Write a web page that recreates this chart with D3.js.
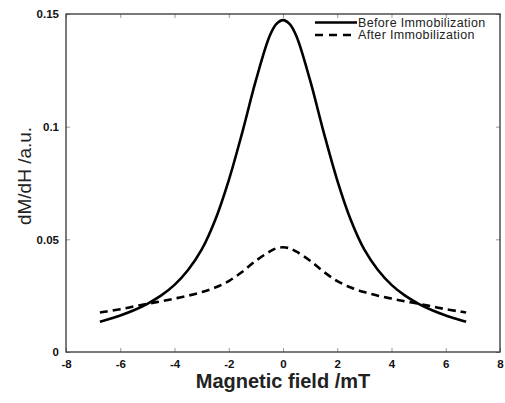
<!DOCTYPE html>
<html>
<head>
<meta charset="utf-8">
<script src="https://cdn.jsdelivr.net/npm/d3@7"></script>
<style>
  body { margin: 0; background: #fff; }
  svg { display: block; }
</style>
</head>
<body>
<div id="chartContainer"></div>
<script>
const fieldValues = [-6.75, -6.5, -6, -5.5, -5, -4.5, -4, -3.5, -3, -2.5, -2, -1.5, -1, -0.5, -0.25, 0,
                     0.25, 0.5, 1, 1.5, 2, 2.5, 3, 3.5, 4, 4.5, 5, 5.5, 6, 6.5, 6.75];

// dM/dH before immobilization
const beforeValues = [0.0134, 0.0143, 0.0162, 0.0185, 0.0214, 0.0250, 0.0298, 0.0364, 0.0454, 0.0586, 0.0762, 0.0975, 0.1205, 0.1400, 0.1455, 0.1473,
                      0.1455, 0.1400, 0.1205, 0.0975, 0.0762, 0.0586, 0.0454, 0.0364, 0.0298, 0.0250, 0.0214, 0.0185, 0.0162, 0.0143, 0.0134];

// dM/dH after immobilization
const afterValues = [0.0175, 0.0180, 0.0190, 0.0202, 0.0214, 0.0225, 0.0237, 0.0250, 0.0266, 0.0286, 0.0315, 0.0356, 0.0405, 0.0445, 0.0460, 0.0465,
                     0.0460, 0.0445, 0.0405, 0.0356, 0.0315, 0.0286, 0.0266, 0.0250, 0.0237, 0.0225, 0.0214, 0.0202, 0.0190, 0.0180, 0.0175];

const xTicks = [-8, -6, -4, -2, 0, 2, 4, 6, 8];
const yTicks = [0, 0.05, 0.1, 0.15];
const legendLabels = ["Before Immobilization", "After Immobilization"];

const svgWidth = 505;
const svgHeight = 403;
const margin = { top: 14, right: 5, bottom: 51, left: 66 };
const chartWidth = svgWidth - margin.left - margin.right;
const chartHeight = svgHeight - margin.top - margin.bottom;

const svg = d3.select("#chartContainer")
    .append("svg")
    .attr("width", svgWidth)
    .attr("height", svgHeight);

const chart = svg.append("g")
    .attr("transform", `translate(${margin.left}, ${margin.top})`);

const xScale = d3.scaleLinear().domain([-8, 8]).range([0, chartWidth]);
const yScale = d3.scaleLinear().domain([0, 0.15]).range([chartHeight, 0]);

// inward ticks on all four sides
function styleAxis(g) {
    g.select(".domain").remove();
    g.selectAll(".tick line").attr("stroke", "#999").attr("stroke-width", 1);
    g.selectAll(".tick text")
        .attr("font-family", "Liberation Sans, Arial, sans-serif")
        .attr("font-weight", "bold")
        .attr("font-size", "11.5px")
        .attr("fill", "#111");
}

chart.append("g")
    .attr("transform", `translate(0, ${chartHeight})`)
    .call(d3.axisBottom(xScale).tickValues(xTicks).tickSize(-4).tickPadding(8).tickFormat(d => d))
    .call(styleAxis);

chart.append("g")
    .call(d3.axisTop(xScale).tickValues(xTicks).tickSize(-4).tickFormat(""))
    .call(styleAxis);

chart.append("g")
    .call(d3.axisLeft(yScale).tickValues(yTicks).tickSize(-4).tickPadding(7).tickFormat(d => String(d)))
    .call(styleAxis);

chart.append("g")
    .attr("transform", `translate(${chartWidth}, 0)`)
    .call(d3.axisRight(yScale).tickValues(yTicks).tickSize(-4).tickFormat(""))
    .call(styleAxis);

// frame
chart.append("rect")
    .attr("width", chartWidth)
    .attr("height", chartHeight)
    .attr("fill", "none")
    .attr("stroke", "#333")
    .attr("stroke-width", 1.3);

const line = d3.line()
    .x((d, i) => xScale(fieldValues[i]))
    .y(d => yScale(d))
    .curve(d3.curveCatmullRom);

chart.append("path")
    .datum(beforeValues)
    .attr("d", line)
    .attr("fill", "none")
    .attr("stroke", "#000")
    .attr("stroke-width", 2.6);

chart.append("path")
    .datum(afterValues)
    .attr("d", line)
    .attr("fill", "none")
    .attr("stroke", "#000")
    .attr("stroke-width", 2.6)
    .attr("stroke-dasharray", "8,5");

// legend
const legend = svg.append("g").attr("transform", "translate(315, 22.5)");
legendLabels.forEach((label, i) => {
    const row = legend.append("g").attr("transform", `translate(0, ${i * 12.5})`);
    row.append("line")
        .attr("x1", 0).attr("x2", 42)
        .attr("stroke", "#000")
        .attr("stroke-width", 2.6)
        .attr("stroke-dasharray", i === 1 ? "8,6" : null);
    row.append("text")
        .attr("x", 43)
        .attr("dy", "0.35em")
        .attr("font-family", "Liberation Sans, Arial, sans-serif")
        .attr("font-size", "12.5px")
        .attr("letter-spacing", "0.35px")
        .attr("fill", "#222")
        .text(label);
});

// axis titles
svg.append("text")
    .attr("x", margin.left + xScale(0))
    .attr("y", 388)
    .attr("text-anchor", "middle")
    .attr("font-family", "Liberation Sans, Arial, sans-serif")
    .attr("font-weight", "bold")
    .attr("font-size", "20px")
    .attr("fill", "#222")
    .text("Magnetic field /mT");

svg.append("text")
    .attr("transform", "translate(31, 176) rotate(-90)")
    .attr("text-anchor", "middle")
    .attr("font-family", "Liberation Sans, Arial, sans-serif")
    .attr("font-size", "19px")
    .attr("fill", "#222")
    .text("dM/dH /a.u.");
</script>
</body>
</html>
